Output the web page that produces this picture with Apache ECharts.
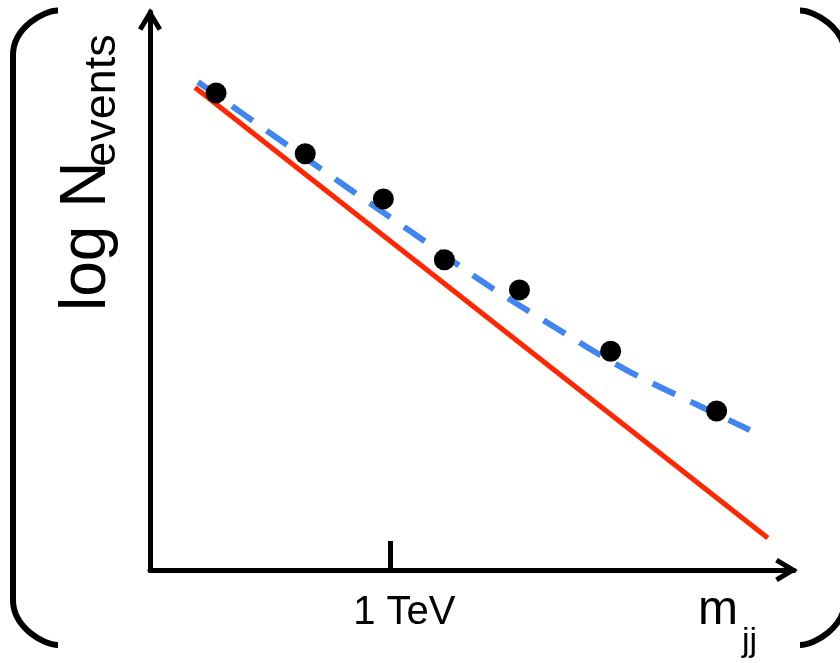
<!DOCTYPE html>
<html>
<head>
<meta charset="utf-8">
<title>Dijet mass spectrum sketch</title>
<script src="https://cdn.jsdelivr.net/npm/echarts@6/dist/echarts.min.js"></script>
<style>
  html, body { margin: 0; padding: 0; background: #ffffff; }
  #chart { width: 840px; height: 663px; }
</style>
</head>
<body>
<div id="chart"></div>
<script>
// Measured events (m_jj in TeV, log N in arbitrary units)
const dataMjj  = [0.275, 0.646, 0.971, 1.225, 1.5375, 1.917, 2.358];
const dataLogN = [8.55, 7.46, 6.65, 5.56, 5.02, 3.92, 2.85];

// Fit to the data (blue dashed curve)
const fitMjj  = [0.2, 0.529, 0.8125, 1.1, 1.392, 1.683, 1.983, 2.296, 2.496];
const fitLogN = [8.746, 7.742, 6.882, 6.022, 5.143, 4.355, 3.584, 2.921, 2.509];

// QCD expectation (red straight line)
const qcdMjj  = [0.1875, 2.571];
const qcdLogN = [8.647, 0.573];

// Tick on the mass axis
const tickValues = [1];
const tickLabels = ['1 TeV'];

const zip = (xs, ys) => xs.map((x, i) => [x, ys[i]]);

const chart = echarts.init(document.getElementById('chart'), null, { renderer: 'canvas' });

// Open chevron used as the axis arrow head (points up, rotated by the axis)
const arrowHead = 'path://M12,0 L24,20 L19.7,22.6 L12,9.8 L4.3,22.6 L0,20 Z';
const font = '"Liberation Sans", Arial, Helvetica, sans-serif';

// One round bracket: two bezier corners joined by a straight side.
function bracket(endX, sideX, top, bottom) {
  const style = { fill: 'none', stroke: '#000', lineWidth: 6, lineCap: 'butt' };
  const mid = (endX + sideX) / 2;
  return [
    { type: 'bezierCurve', shape: { x1: endX, y1: top, cpx1: mid - (sideX - endX) * 0.17, cpy1: top, cpx2: sideX, cpy2: top + 17.5, x2: sideX, y2: top + 44.5 }, style },
    { type: 'line', shape: { x1: sideX, y1: top + 44.5, x2: sideX, y2: bottom - 45 }, style },
    { type: 'bezierCurve', shape: { x1: sideX, y1: bottom - 45, cpx1: sideX, cpy1: bottom - 18, cpx2: mid - (sideX - endX) * 0.17, cpy2: bottom, x2: endX, y2: bottom }, style }
  ];
}

chart.setOption({
  backgroundColor: '#ffffff',
  animation: false,
  grid: { left: 150, top: 12, right: 46, bottom: 93, containLabel: false },
  xAxis: {
    type: 'value',
    min: 0,
    max: 2.68,
    splitLine: { show: false },
    axisLine: {
      show: true,
      onZero: false,
      lineStyle: { color: '#000', width: 5 },
      symbol: ['none', arrowHead],
      symbolSize: [24, 23],
      symbolOffset: [0, -7.5]
    },
    axisTick: {
      show: true,
      inside: true,
      length: 29,
      customValues: tickValues,
      lineStyle: { color: '#000', width: 5 }
    },
    axisLabel: {
      show: true,
      customValues: tickValues,
      formatter: (v) => tickLabels[tickValues.indexOf(v)] || '',
      color: '#000',
      fontFamily: font,
      fontSize: 40,
      lineHeight: 40,
      margin: 23,
      padding: [0, 0, 0, 28]
    }
  },
  yAxis: {
    type: 'value',
    min: 0,
    max: 10,
    splitLine: { show: false },
    axisLine: {
      show: true,
      onZero: false,
      lineStyle: { color: '#000', width: 5 },
      symbol: ['none', arrowHead],
      symbolSize: [24, 23],
      symbolOffset: [0, -7.5]
    },
    axisTick: { show: false },
    axisLabel: { show: false }
  },
  series: [
    {
      name: 'QCD',
      type: 'line',
      data: zip(qcdMjj, qcdLogN),
      showSymbol: false,
      lineStyle: { color: '#ff2600', width: 5, cap: 'butt' },
      z: 2
    },
    {
      name: 'Fit',
      type: 'line',
      data: zip(fitMjj, fitLogN),
      smooth: 0.35,
      showSymbol: false,
      lineStyle: { color: '#4085f2', width: 6, type: [25, 17], cap: 'butt' },
      z: 3
    },
    {
      name: 'Data',
      type: 'scatter',
      data: zip(dataMjj, dataLogN),
      symbol: 'circle',
      symbolSize: 21,
      itemStyle: { color: '#000', opacity: 1 },
      z: 4
    }
  ],
  graphic: [
    // Parentheses framing the plot
    ...bracket(58, 13, 10.5, 645),
    ...bracket(800, 845, 10.5, 645),
    // Vertical axis title: log N_events
    {
      type: 'text',
      x: 87.6, y: 311,
      rotation: Math.PI / 2,
      style: { text: 'log N', font: '64px ' + font, fill: '#000', align: 'left', verticalAlign: 'middle' }
    },
    {
      type: 'text',
      x: 102.3, y: 166.8,
      rotation: Math.PI / 2,
      style: { text: 'events', font: '45px ' + font, fill: '#000', align: 'left', verticalAlign: 'middle' }
    },
    // Horizontal axis title: m_jj
    {
      type: 'text',
      x: 698, y: 611,
      style: { text: 'm', font: '48px ' + font, fill: '#000', align: 'left', verticalAlign: 'middle' }
    },
    {
      type: 'text',
      x: 742, y: 642,
      style: { text: 'jj', font: '34px ' + font, fill: '#000', align: 'left', verticalAlign: 'middle' }
    }
  ]
});
</script>
</body>
</html>
